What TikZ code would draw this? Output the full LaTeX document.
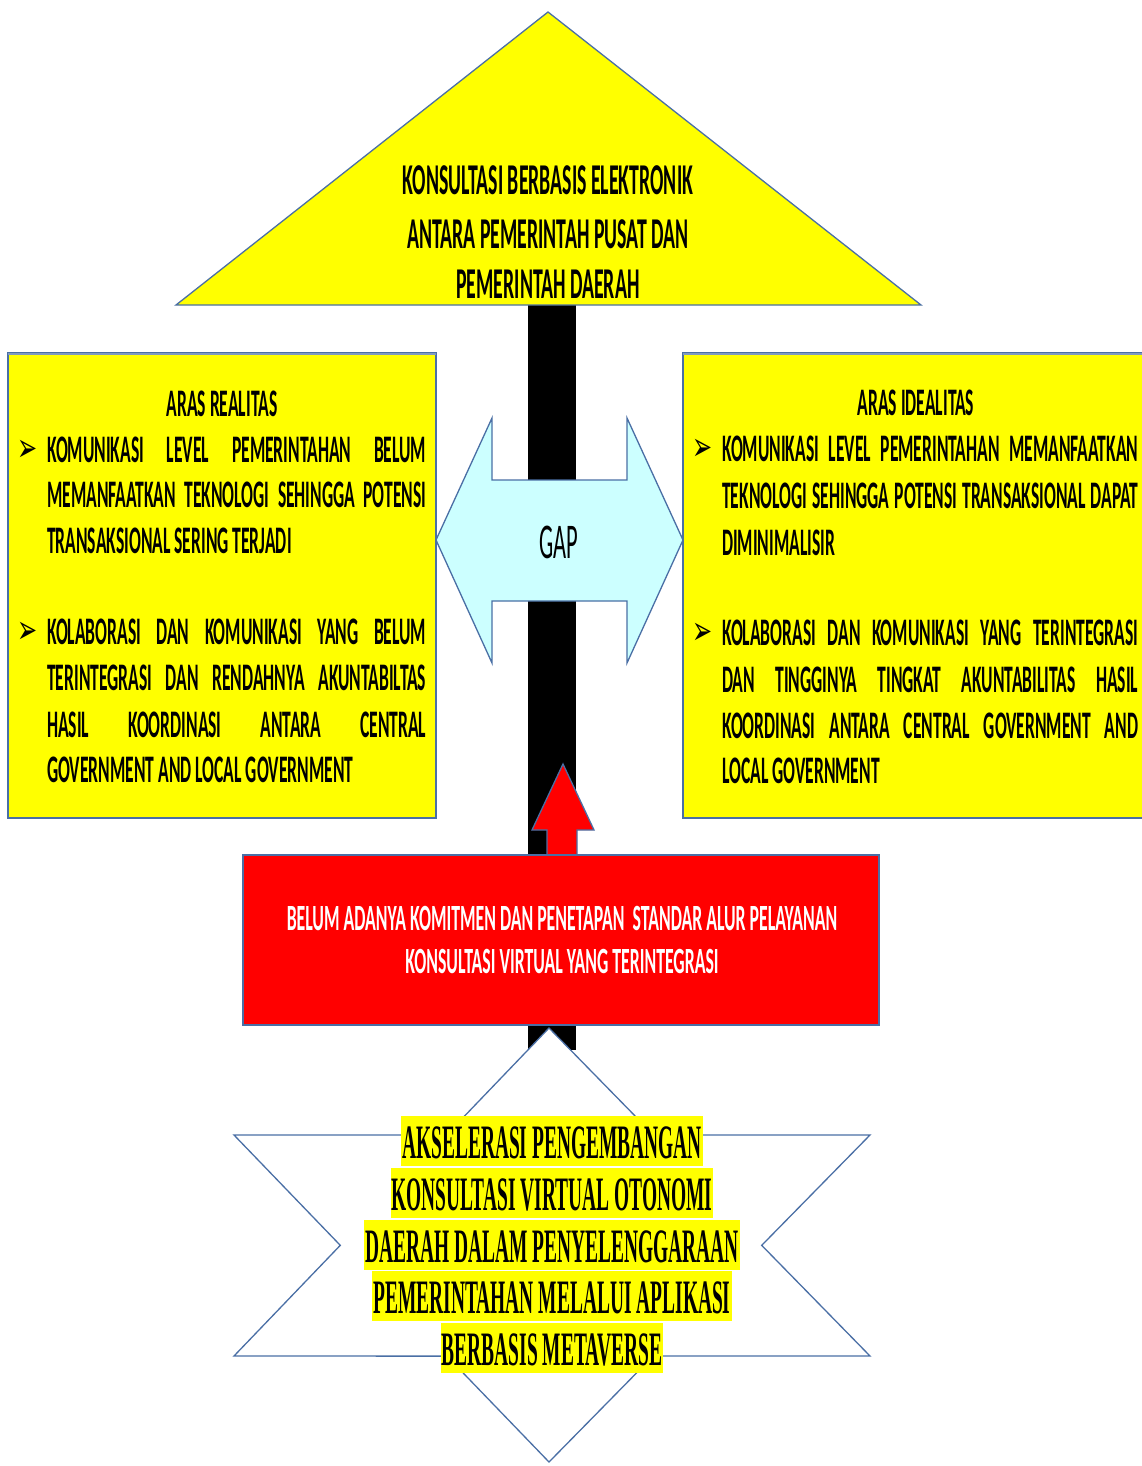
\documentclass[tikz,border=0pt]{standalone}
\usepackage{fontspec}
\usepackage{graphicx}
\newfontfamily\calbase[FakeStretch=0.45]{Carlito}
\newfontfamily\calred[FakeStretch=0.48]{Carlito}
\newfontfamily\tmsbase[FakeStretch=0.405]{Liberation Serif}
\newfontfamily\dvsbase[FakeStretch=0.6]{DejaVu Sans}
\definecolor{bord}{HTML}{4A6FA5}
\definecolor{ylw}{HTML}{FFFF00}
\definecolor{cyn}{HTML}{CCFFFF}
\definecolor{rd}{HTML}{FF0000}
\newsavebox\JustBox
\newcommand\JustLine[2]{\sbox\JustBox{#2}\ifdim\wd\JustBox>#1\relax\resizebox{#1}{\height}{\usebox\JustBox}\else\makebox[#1][s]{#2}\fi}
\tikzset{
  shp/.style={draw=bord, line width=1.3pt, line join=miter},
  ybox/.style={shp, fill=ylw},
  gapst/.style={shp, fill=cyn},
  redst/.style={shp, fill=rd},
  boxtxt/.style={anchor=base west, inner sep=0pt, font=\calbase\bfseries\fontsize{39}{46}\selectfont},
  boxhead/.style={anchor=base, inner sep=0pt, font=\calbase\bfseries\fontsize{39}{46}\selectfont},
  bullet/.style={anchor=base west, inner sep=0pt, font=\dvsbase\fontsize{40}{40}\selectfont},
  tritxt/.style={anchor=base, inner sep=0pt, font=\calbase\bfseries\fontsize{44}{50}\selectfont},
  redtxt/.style={anchor=base, inner sep=0pt, text=white, font=\calred\bfseries\fontsize{37}{44}\selectfont},
  gaptxt/.style={anchor=base, inner sep=0pt, font=\calbase\fontsize{50}{50}\selectfont},
  startxt/.style={anchor=base, fill=ylw, inner xsep=1pt, inner ysep=0pt, text height=42pt, text depth=8pt, font=\tmsbase\bfseries\fontsize{48}{52}\selectfont}
}
\begin{document}
\begin{tikzpicture}[x=1pt,y=-1pt]
\useasboundingbox (0,0) rectangle (1142,1466);
\fill[white] (0,0) rectangle (1142,1466);
% central black bar
\fill[black] (528,300) rectangle (576,1050);
% top triangle
\draw[ybox] (548,12) -- (921,305) -- (176,305) -- cycle;
\node[tritxt] (t1) at (548,195) {KONSULTASI BERBASIS ELEKTRONIK};
\node[tritxt] (t2) at (548,248) {ANTARA PEMERINTAH PUSAT DAN};
\node[tritxt] (t3) at (548,298) {PEMERINTAH DAERAH};
% side boxes
\draw[ybox] (8,353) rectangle (436,818);
\draw[draw=bord!70, line width=2pt] (8,354) -- (436,354);
\draw[ybox] (683,353) rectangle (1152,818);
\draw[draw=bord!70, line width=2pt] (683,354) -- (1142,354);
% GAP double arrow
\draw[gapst] (436,540) -- (492,418) -- (492,480) -- (627,480) -- (627,418) -- (683,540)
  -- (627,663) -- (627,601) -- (492,601) -- (492,663) -- cycle;
\node[gaptxt] (gap) at (559,558) {GAP};
% left box text
\node[boxhead] (lh) at (222,416) {ARAS REALITAS};
\node[bullet] (lb1) at (17,461) {➢};
\node[boxtxt] (l1) at (47,462) {\JustLine{379pt}{KOMUNIKASI LEVEL PEMERINTAHAN BELUM}};
\node[boxtxt] (l2) at (47,507) {\JustLine{379pt}{MEMANFAATKAN TEKNOLOGI SEHINGGA POTENSI}};
\node[boxtxt] (l3) at (47,553) {TRANSAKSIONAL SERING TERJADI};
\node[bullet] (lb2) at (17,643) {➢};
\node[boxtxt] (l4) at (47,644) {\JustLine{379pt}{KOLABORASI DAN KOMUNIKASI YANG BELUM}};
\node[boxtxt] (l5) at (47,690) {\JustLine{379pt}{TERINTEGRASI DAN RENDAHNYA AKUNTABILTAS}};
\node[boxtxt] (l6) at (47,737) {\JustLine{379pt}{HASIL KOORDINASI ANTARA CENTRAL}};
\node[boxtxt] (l7) at (47,782) {GOVERNMENT AND LOCAL GOVERNMENT};
% right box text
\node[boxhead] (rh) at (916,415) {ARAS IDEALITAS};
\node[bullet] (rb1) at (692,460) {➢};
\node[boxtxt] (r1) at (722,461) {\JustLine{416pt}{KOMUNIKASI LEVEL PEMERINTAHAN MEMANFAATKAN}};
\node[boxtxt] (r2) at (722,508) {\JustLine{416pt}{TEKNOLOGI SEHINGGA POTENSI TRANSAKSIONAL DAPAT}};
\node[boxtxt] (r3) at (722,555) {DIMINIMALISIR};
\node[bullet] (rb2) at (692,644) {➢};
\node[boxtxt] (r4) at (722,645) {\JustLine{416pt}{KOLABORASI DAN KOMUNIKASI YANG TERINTEGRASI}};
\node[boxtxt] (r5) at (722,692) {\JustLine{416pt}{DAN TINGGINYA TINGKAT AKUNTABILITAS HASIL}};
\node[boxtxt] (r6) at (722,738) {\JustLine{416pt}{KOORDINASI ANTARA CENTRAL GOVERNMENT AND}};
\node[boxtxt] (r7) at (722,783) {LOCAL GOVERNMENT};
% red up arrow
\draw[redst] (563,764) -- (594,830) -- (577,830) -- (577,860) -- (547,860) -- (547,830) -- (532,830) -- cycle;
% red box
\draw[redst] (243,855) rectangle (879,1025);
\node[redtxt] (rd1) at (562,930) {BELUM ADANYA KOMITMEN DAN PENETAPAN\ \ STANDAR ALUR PELAYANAN};
\node[redtxt] (rd2) at (562,973) {KONSULTASI VIRTUAL YANG TERINTEGRASI};
% hexagram outline
\coordinate (uA) at (549,1028); \coordinate (uL) at (234,1356); \coordinate (uR) at (870,1356);
\coordinate (dA) at (549,1462); \coordinate (dL) at (234,1135); \coordinate (dR) at (870,1135);
\draw[shp, fill=white]
  (uA) -- (intersection of uA--uR and dL--dR) -- (dR)
  -- (intersection of uA--uR and dR--dA) -- (uR)
  -- (intersection of uL--uR and dR--dA) -- (dA)
  -- (intersection of uL--uR and dL--dA) -- (uL)
  -- (intersection of uA--uL and dL--dA) -- (dL)
  -- (intersection of uA--uL and dL--dR) -- cycle;
\node[startxt] (s1) at (552,1158) {AKSELERASI PENGEMBANGAN};
\node[startxt] (s2) at (552,1210) {KONSULTASI VIRTUAL OTONOMI};
\node[startxt] (s3) at (552,1262) {DAERAH DALAM PENYELENGGARAAN};
\node[startxt] (s4) at (552,1313) {PEMERINTAHAN MELALUI APLIKASI};
\node[startxt] (s5) at (552,1365) {BERBASIS METAVERSE};
\end{tikzpicture}
\end{document}
